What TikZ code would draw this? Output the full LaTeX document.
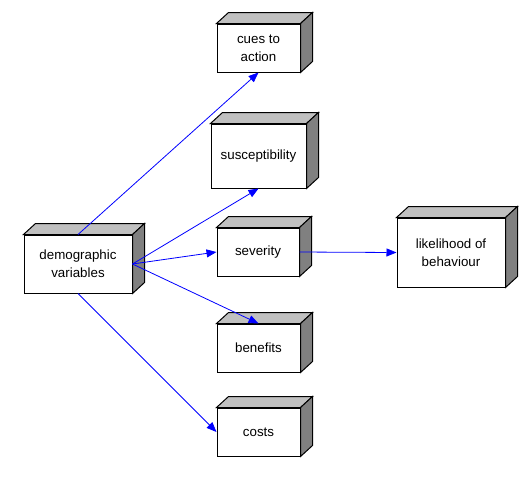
\documentclass[tikz,border=0pt]{standalone}
\usepackage{fontspec}
\setmainfont{Liberation Sans}
\usetikzlibrary{calc,arrows.meta}

\definecolor{topgrey}{RGB}{192,192,192}
\definecolor{sidegrey}{RGB}{128,128,128}

\tikzset{every picture/.style={line width=0.75pt}}
\tikzset{
  cube/.style 2 args={draw, fill=white, align=center, inner sep=0pt,
    minimum width=#1*0.75pt, minimum height=#2*0.75pt,
    font=\fontsize{10}{13.5}\selectfont},
  link/.style={draw={rgb, 255:red, 0; green, 0; blue, 255}, line width=0.6pt,
    -{Triangle[length=7.5pt,width=6pt]}},
}

% top and side face of a box
\newcommand{\cubefaces}[1]{%
  \draw [fill=topgrey] (#1.north west) -- ($(#1.north west)+(12,-11)$) -- ($(#1.north east)+(12,-11)$) -- (#1.north east) -- cycle ;
  \draw [fill=sidegrey] (#1.north east) -- ($(#1.north east)+(12,-11)$) -- ($(#1.south east)+(12,-11)$) -- (#1.south east) -- cycle ;
}

\begin{document}
\begin{tikzpicture}[x=0.75pt,y=0.75pt,yscale=-1,xscale=1]
\useasboundingbox (0,0) rectangle (528,480);

% Boxes
\node [cube={83}{48}] (cues) at (258.5,48) {cues to\\action};
\node [cube={95}{64}] (susc) at (258.5,156) {susceptibility};
\node [cube={82}{48}] (sev) at (258,252) {severity};
\node [cube={83}{48}] (ben) at (258.5,348) {benefits};
\node [cube={83}{48}] (costs) at (258.5,432) {costs};
\node [cube={108}{58}] (demo) at (78,264) {demographic\\variables};
\node [cube={108}{69}] (like) at (451,252.5) {likelihood of\\behaviour};

\cubefaces{cues}
\cubefaces{susc}
\cubefaces{sev}
\cubefaces{ben}
\cubefaces{costs}
\cubefaces{demo}
\cubefaces{like}

% Arrows
\draw [link] (demo.north) -- (cues.south) ;
\draw [link] (demo.east) -- (susc.south) ;
\draw [link] (demo.east) -- (sev.west) ;
\draw [link] (demo.east) -- (ben.north) ;
\draw [link] (demo.south) -- (costs.west) ;
\draw [link] (sev.east) -- (like.west) ;

\end{tikzpicture}
\end{document}
